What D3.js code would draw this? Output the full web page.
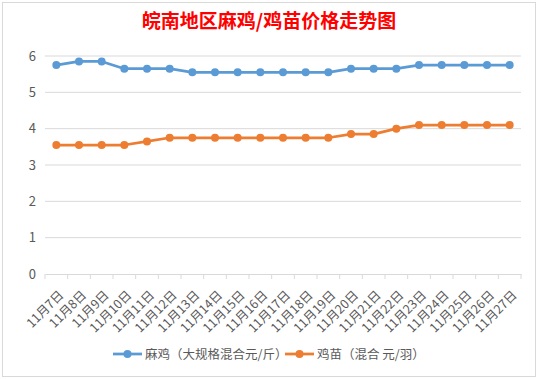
<!DOCTYPE html>
<html>
<head>
<meta charset="utf-8">
<script src="https://cdn.jsdelivr.net/npm/d3@7"></script>
<style>
  body { margin: 0; background: #fff; }
  #chart { width: 538px; height: 379px; }
  text { font-family: "Microsoft YaHei", "Noto Sans CJK SC", sans-serif; }
</style>
</head>
<body>
<div id="chart"></div>
<script>
const dates = ["11月7日", "11月8日", "11月9日", "11月10日", "11月11日", "11月12日", "11月13日",
    "11月14日", "11月15日", "11月16日", "11月17日", "11月18日", "11月19日", "11月20日",
    "11月21日", "11月22日", "11月23日", "11月24日", "11月25日", "11月26日", "11月27日"];
const majiValues = [5.75, 5.85, 5.85, 5.65, 5.65, 5.65, 5.55, 5.55, 5.55, 5.55, 5.55,
    5.55, 5.55, 5.65, 5.65, 5.65, 5.75, 5.75, 5.75, 5.75, 5.75];
const jimiaoValues = [3.55, 3.55, 3.55, 3.55, 3.65, 3.75, 3.75, 3.75, 3.75, 3.75, 3.75,
    3.75, 3.75, 3.85, 3.85, 4.0, 4.1, 4.1, 4.1, 4.1, 4.1];
const yTicks = [0, 1, 2, 3, 4, 5, 6];
const seriesNames = ["麻鸡（大规格混合元/斤）", "鸡苗（混合 元/羽）"];
const colors = ["#5b9bd5", "#ed7d31"];

function renderChart(selector) {
    const W = 538, H = 379;
    const margin = {top: 56, right: 17, bottom: 105, left: 45};
    const width = W - margin.left - margin.right;
    const height = H - margin.top - margin.bottom;

    const root = d3.select(selector).append("svg")
        .attr("width", W)
        .attr("height", H);

    root.append("rect")
        .attr("x", 2.5).attr("y", 2.5)
        .attr("width", 533).attr("height", 374)
        .attr("fill", "#fff")
        .attr("stroke", "#d9d9d9");

    root.append("text")
        .attr("x", 269)
        .attr("y", 28)
        .attr("text-anchor", "middle")
        .attr("fill", "#ff0000")
        .attr("font-size", 19)
        .attr("font-weight", "bold")
        .text("皖南地区麻鸡/鸡苗价格走势图");

    const svg = root.append("g")
        .attr("transform", `translate(${margin.left}, ${margin.top})`);

    const x = d3.scaleBand()
        .domain(dates)
        .range([0, width]);

    const y = d3.scaleLinear()
        .domain([0, 6])
        .range([height, 0]);

    // gridlines
    svg.append("g")
        .selectAll("line")
        .data(yTicks.filter(d => d > 0))
        .enter()
        .append("line")
        .attr("x1", 0).attr("x2", width)
        .attr("y1", d => y(d)).attr("y2", d => y(d))
        .attr("stroke", "#d9d9d9");

    const yAxis = svg.append("g")
        .call(d3.axisLeft(y).tickValues(yTicks).tickFormat(d3.format("d")).tickSize(0).tickPadding(9));
    yAxis.select(".domain").remove();
    yAxis.selectAll("text")
        .attr("fill", "#595959")
        .attr("font-size", 13);

    const xAxis = svg.append("g")
        .attr("transform", `translate(0, ${height})`)
        .call(d3.axisBottom(x).tickSize(5).tickSizeOuter(0));
    xAxis.select(".domain").attr("stroke", "#d9d9d9");
    xAxis.selectAll(".tick line")
        .attr("stroke", "#d9d9d9")
        .attr("transform", `translate(${-x.bandwidth() / 2}, 0)`);
    svg.append("line")
        .attr("x1", width).attr("x2", width)
        .attr("y1", height).attr("y2", height + 5)
        .attr("stroke", "#d9d9d9");
    xAxis.selectAll(".tick text")
        .attr("fill", "#595959")
        .attr("font-size", 12.5)
        .attr("text-anchor", "end")
        .attr("dy", null)
        .attr("y", 0)
        .attr("transform", "translate(8, 22) rotate(-45)");

    const allSeries = [majiValues, jimiaoValues];
    const line = d3.line()
        .x((d, i) => x(dates[i]) + x.bandwidth() / 2)
        .y(d => y(d));

    allSeries.forEach((vals, k) => {
        svg.append("path")
            .datum(vals)
            .attr("fill", "none")
            .attr("stroke", colors[k])
            .attr("stroke-width", 2.75)
            .attr("stroke-linejoin", "round")
            .attr("d", line);

        svg.selectAll(".pt" + k)
            .data(vals)
            .enter()
            .append("circle")
            .attr("class", "pt" + k)
            .attr("cx", (d, i) => x(dates[i]) + x.bandwidth() / 2)
            .attr("cy", d => y(d))
            .attr("r", 4)
            .attr("fill", colors[k]);
    });

    // legend
    const legendX = [113, 285];
    const legend = root.append("g");
    seriesNames.forEach((name, k) => {
        const g = legend.append("g")
            .attr("transform", `translate(${legendX[k]}, 354)`);
        g.append("line")
            .attr("x1", 0).attr("x2", 29)
            .attr("stroke", colors[k])
            .attr("stroke-width", 2.75);
        g.append("circle")
            .attr("cx", 14.5).attr("r", 4)
            .attr("fill", colors[k]);
        g.append("text")
            .attr("x", 32)
            .attr("y", 4.5)
            .attr("fill", "#595959")
            .attr("font-size", 12.5)
            .text(name);
    });
}

renderChart("#chart");
</script>
</body>
</html>
